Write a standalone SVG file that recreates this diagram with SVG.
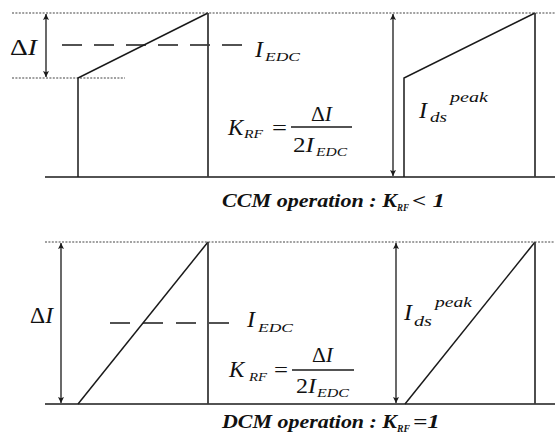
<svg xmlns="http://www.w3.org/2000/svg" width="555" height="445" viewBox="0 0 555 445">
<style>
.ln{stroke:#1a1a1a;stroke-width:1.5;fill:none}
.vl{stroke:#3a3a3a;stroke-width:1.8;fill:none}
.dot{stroke:#444;stroke-width:1.2;stroke-dasharray:2 1.4;fill:none}
.dash{stroke:#1a1a1a;stroke-width:1.5;stroke-dasharray:20 12;fill:none}
.arr{stroke:#1a1a1a;stroke-width:1.3;fill:none;marker-start:url(#ah);marker-end:url(#ah)}
text{font-family:'Liberation Serif','Times New Roman',serif;fill:#111}
.it{font-style:italic}
.big{font-size:24px}
.mid{font-size:22px}
.k{font-size:23px;font-style:italic}
.sub{font-size:13px;font-style:italic}
.sup{font-size:15px;font-style:italic}
.cap{font-size:18px;font-weight:bold;font-style:italic}
.capsub{font-size:11px;font-weight:bold;font-style:italic}
</style>
<defs>
<marker id="ah" viewBox="0 0 10 10" refX="10" refY="5" markerWidth="11" markerHeight="6" markerUnits="userSpaceOnUse" orient="auto-start-reverse">
<path d="M0,0 L10,5 L0,10 L2,5 z" fill="#1a1a1a"/>
</marker>
</defs>
<rect x="0" y="0" width="555" height="445" fill="#fff"/>

<g id="ccm-panel">
  <g id="ccm-guides">
    <line class="dot" x1="12" y1="13" x2="555" y2="13"/>
    <line class="dot" x1="12" y1="78" x2="125" y2="78"/>
    <line class="dash" x1="62" y1="45" x2="242" y2="45"/>
    <line class="ln" x1="45" y1="177" x2="555" y2="177"/>
  </g>
  <g id="ccm-arrows">
    <line class="arr" x1="46" y1="14" x2="46" y2="77"/>
    <line class="arr" x1="393" y1="14" x2="393" y2="176"/>
  </g>
  <g id="ccm-wave-left">
    <polyline class="ln" points="78,177 78,78 208,13"/>
    <line class="vl" x1="208" y1="13" x2="208" y2="177"/>
  </g>
  <g id="ccm-wave-right">
    <polyline class="ln" points="404,177 404,78 535,13"/>
    <line class="vl" x1="535" y1="13" x2="535" y2="177"/>
  </g>
  <g id="ccm-labels">
    <text class="big" x="10" y="55" textLength="27" lengthAdjust="spacingAndGlyphs">Δ<tspan class="it">I</tspan></text>
    <text class="big it" x="255" y="57">I</text>
    <text class="sub" x="265" y="61" textLength="35" lengthAdjust="spacingAndGlyphs">EDC</text>
    <text class="k" x="228" y="135">K</text>
    <text class="sub" x="244" y="138" textLength="19" lengthAdjust="spacingAndGlyphs">RF</text>
    <text class="mid" x="272" y="135" textLength="15" lengthAdjust="spacingAndGlyphs">=</text>
    <line class="ln" x1="291" y1="127" x2="352" y2="127" stroke-width="1.3"/>
    <text class="mid" x="311" y="121" textLength="21" lengthAdjust="spacingAndGlyphs">Δ<tspan class="it">I</tspan></text>
    <text class="mid" x="293" y="152" textLength="21" lengthAdjust="spacingAndGlyphs">2<tspan class="it">I</tspan></text>
    <text class="sub" x="316" y="156" textLength="31" lengthAdjust="spacingAndGlyphs">EDC</text>
    <text class="big it" x="419" y="118">I</text>
    <text class="sup" x="430" y="122" textLength="17" lengthAdjust="spacingAndGlyphs">ds</text>
    <text class="sup" x="450" y="102" textLength="38" lengthAdjust="spacingAndGlyphs">peak</text>
  </g>
  <g id="ccm-caption">
    <text class="cap" x="222" y="207" textLength="175" lengthAdjust="spacingAndGlyphs">CCM operation : K</text>
    <text class="capsub" x="397" y="211" textLength="12" lengthAdjust="spacingAndGlyphs">RF</text>
    <text class="cap" x="412" y="207" textLength="33" lengthAdjust="spacingAndGlyphs">&lt; 1</text>
  </g>
</g>

<g id="dcm-panel">
  <g id="dcm-guides">
    <line class="dot" x1="45" y1="242" x2="555" y2="242"/>
    <line class="dash" x1="110" y1="323" x2="230" y2="323" style="stroke-dasharray:20 13"/>
    <line class="ln" x1="45" y1="404" x2="555" y2="404"/>
  </g>
  <g id="dcm-arrows">
    <line class="arr" x1="61" y1="243" x2="61" y2="403"/>
    <line class="arr" x1="396" y1="243" x2="396" y2="403"/>
  </g>
  <g id="dcm-wave-left">
    <line class="ln" x1="78" y1="404" x2="208" y2="242"/>
    <line class="vl" x1="208" y1="242" x2="208" y2="404"/>
  </g>
  <g id="dcm-wave-right">
    <line class="ln" x1="405" y1="404" x2="535" y2="242"/>
    <line class="vl" x1="535" y1="242" x2="535" y2="404"/>
  </g>
  <g id="dcm-labels">
    <text class="big" x="30" y="323" textLength="23" lengthAdjust="spacingAndGlyphs">Δ<tspan class="it">I</tspan></text>
    <text class="big it" x="247" y="327">I</text>
    <text class="sub" x="258" y="332" textLength="35" lengthAdjust="spacingAndGlyphs">EDC</text>
    <text class="k" x="229" y="377">K</text>
    <text class="sub" x="249" y="381" textLength="18" lengthAdjust="spacingAndGlyphs">RF</text>
    <text class="mid" x="274" y="377" textLength="14" lengthAdjust="spacingAndGlyphs">=</text>
    <line class="ln" x1="292" y1="370" x2="354" y2="370" stroke-width="1.3"/>
    <text class="mid" x="312" y="362" textLength="21" lengthAdjust="spacingAndGlyphs">Δ<tspan class="it">I</tspan></text>
    <text class="mid" x="296" y="393" textLength="20" lengthAdjust="spacingAndGlyphs">2<tspan class="it">I</tspan></text>
    <text class="sub" x="317" y="397" textLength="32" lengthAdjust="spacingAndGlyphs">EDC</text>
    <text class="big it" x="404" y="320">I</text>
    <text class="sup" x="414" y="326" textLength="18" lengthAdjust="spacingAndGlyphs">ds</text>
    <text class="sup" x="435" y="307" textLength="37" lengthAdjust="spacingAndGlyphs">peak</text>
  </g>
  <g id="dcm-caption">
    <text class="cap" x="222" y="428" textLength="175" lengthAdjust="spacingAndGlyphs">DCM operation : K</text>
    <text class="capsub" x="397" y="432" textLength="13" lengthAdjust="spacingAndGlyphs">RF</text>
    <text class="cap" x="413" y="428" textLength="27" lengthAdjust="spacingAndGlyphs">=1</text>
  </g>
</g>
</svg>
